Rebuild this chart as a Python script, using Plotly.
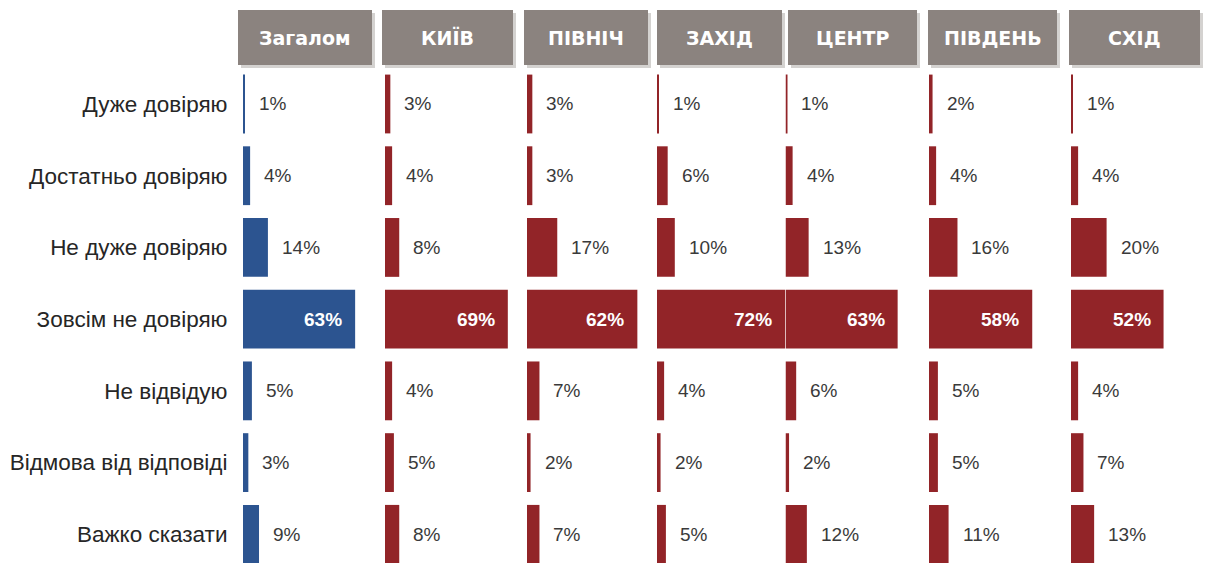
import plotly.graph_objects as go

categories = ["Дуже довіряю", "Достатньо довіряю", "Не дуже довіряю", "Зовсім не довіряю",
              "Не відвідую", "Відмова від відповіді", "Важко сказати"]
regions = ["Загалом", "КИЇВ", "ПІВНІЧ", "ЗАХІД", "ЦЕНТР", "ПІВДЕНЬ", "СХІД"]
zagalom = [1, 4, 14, 63, 5, 3, 9]
kyiv = [3, 4, 8, 69, 4, 5, 8]
pivnich = [3, 3, 17, 62, 7, 2, 7]
zakhid = [1, 6, 10, 72, 4, 2, 5]
tsentr = [1, 4, 13, 63, 6, 2, 12]
pivden = [2, 4, 16, 58, 5, 5, 11]
skhid = [1, 4, 20, 52, 4, 7, 13]
series = [zagalom, kyiv, pivnich, zakhid, tsentr, pivden, skhid]

W, H = 1206, 563
BLUE = "#2c5490"
RED = "#922428"
GREY = "#8b837f"
PX_PER_PCT = 1.78
# panel pixel extents (left, right)
panels = [(243, 381), (385, 525), (527, 655), (657, 786), (785.5, 927), (929, 1069), (1071, 1206)]
# header boxes (left, right)
boxes = [(238, 372), (382, 513), (524, 648), (657, 782), (788, 917), (928, 1057), (1069, 1200)]
BOX_TOP, BOX_BOT = 10, 65
PLOT_TOP = 70

def px(x):
    return x / W

def py(y):
    return 1 - y / H

fig = go.Figure()
yidx = list(range(len(categories)))
layout = {}
annotations = []
shapes = []
for k, (name, vals) in enumerate(zip(regions, series)):
    axn = "" if k == 0 else str(k + 1)
    xa = "x" + axn
    color = BLUE if k == 0 else RED
    fig.add_trace(go.Bar(x=vals, y=yidx, orientation="h", xaxis=xa, yaxis="y",
                         marker=dict(color=color, line=dict(width=0)), width=0.82,
                         hoverinfo="x+y", showlegend=False))
    l, r = panels[k]
    layout["xaxis" + axn] = dict(domain=[px(l), px(r)], range=[0, (r - l) / PX_PER_PCT],
                                 visible=False, anchor="y", fixedrange=True)
    for i, v in enumerate(vals):
        if v >= 40:
            annotations.append(dict(x=v, y=i, xref=xa, yref="y", text=f"<b>{v}%</b>",
                                    showarrow=False, xanchor="right", xshift=-11,
                                    font=dict(family="Liberation Sans, Arial", size=19, color="white")))
        else:
            annotations.append(dict(x=v, y=i, xref=xa, yref="y", text=f"{v}%",
                                    showarrow=False, xanchor="left", xshift=12,
                                    font=dict(family="Liberation Sans, Arial", size=19, color="#3a3a3a")))
    bl, br = boxes[k]
    shapes.append(dict(type="rect", xref="paper", yref="paper", x0=px(bl + 3), x1=px(br + 3),
                       y0=py(BOX_BOT + 3), y1=py(BOX_TOP + 3), fillcolor="#d4d2d0",
                       line=dict(width=0), layer="below"))
    shapes.append(dict(type="rect", xref="paper", yref="paper", x0=px(bl), x1=px(br),
                       y0=py(BOX_BOT), y1=py(BOX_TOP), fillcolor=GREY, line=dict(width=0), layer="below"))
    annotations.append(dict(x=px((bl + br) / 2), y=py((BOX_TOP + BOX_BOT) / 2), xref="paper", yref="paper",
                            text=f"<b>{name}</b>", showarrow=False, xanchor="center", yanchor="middle",
                            font=dict(family="DejaVu Sans", size=19, color="white")))

fig.update_layout(**layout)
fig.update_layout(
    width=W, height=H,
    margin=dict(l=0, r=0, t=0, b=0),
    paper_bgcolor="white", plot_bgcolor="white",
    barmode="overlay",
    yaxis=dict(domain=[0, py(PLOT_TOP)], range=[6.40, -0.474], tickmode="array",
               tickvals=yidx, ticktext=categories, ticks="outside", ticklen=10,
               tickcolor="rgba(0,0,0,0)", showgrid=False, zeroline=False, showline=False,
               tickfont=dict(family="Liberation Sans, Arial", size=22.5, color="#262626"),
               anchor="x", fixedrange=True),
    annotations=annotations,
    shapes=shapes,
)
fig.write_html("out.html", config={"displayModeBar": False},
               post_script="document.body.style.margin='0';document.body.style.overflow='hidden';")
